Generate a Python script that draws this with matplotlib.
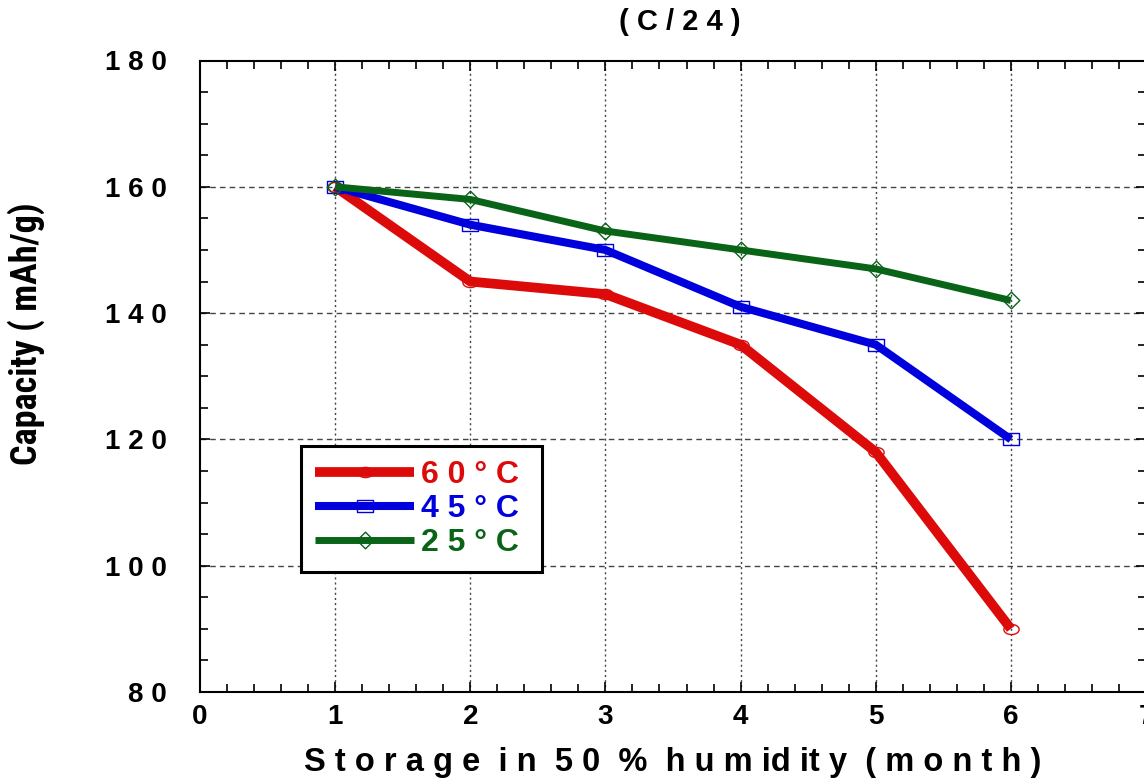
import matplotlib
matplotlib.use("Agg")
import matplotlib.pyplot as plt
from matplotlib.ticker import MultipleLocator
from matplotlib.path import Path
from matplotlib.transforms import Affine2D
from matplotlib import font_manager

months = [1, 2, 3, 4, 5, 6]
cap_60 = [160, 145, 143, 135, 118, 90]
cap_45 = [160, 154, 150, 141, 135, 120]
cap_25 = [160, 158, 153, 150, 147, 142]
labels = ["6 0 ° C ", "4 5 ° C ", "2 5 ° C "]
x_ticks = [0, 1, 2, 3, 4, 5, 6, 7]
y_ticks = [80, 100, 120, 140, 160, 180]
y_tick_labels = ["8 0", "1 0 0", "1 2 0", "1 4 0", "1 6 0", "1 8 0"]

plt.rcParams['font.family'] = ['Liberation Sans', 'DejaVu Sans']

fig = plt.figure(figsize=(11.44, 7.81), dpi=100)
ax = fig.add_axes([200/1144, 1 - 692/781, 946/1144, (692-60.5)/781])

red = '#dd0a0a'
blue = '#0000dd'
green = '#0a6418'

ellipse = Path.unit_circle().transformed(Affine2D().scale(1.5, 1.0))
rect = Path.unit_rectangle().transformed(Affine2D().translate(-0.5, -0.5).scale(1.5, 1.0))
diamond = Path([(0, 1), (1, 0), (0, -1), (-1, 0), (0, 1)],
               [Path.MOVETO, Path.LINETO, Path.LINETO, Path.LINETO, Path.CLOSEPOLY])

ax.plot(months, cap_60, color=red, lw=7.0, marker=ellipse, ms=11,
        mfc='none', mec=red, mew=1.0, label=labels[0], zorder=3,
        solid_capstyle='butt')
ax.plot(months, cap_45, color=blue, lw=5.8, marker=rect, ms=12,
        mfc='none', mec=blue, mew=1.0, label=labels[1], zorder=4,
        solid_capstyle='butt')
ax.plot(months, cap_25, color=green, lw=5.0, marker=diamond, ms=12,
        mfc='none', mec=green, mew=1.0, label=labels[2], zorder=5,
        solid_capstyle='butt')

ax.set_xlim(0, 7)
ax.set_ylim(80, 180)
ax.set_xticks(x_ticks)
ax.set_xticklabels([str(v) for v in x_ticks])
ax.set_yticks(y_ticks)
ax.set_yticklabels(y_tick_labels)
ax.xaxis.set_minor_locator(MultipleLocator(0.2))
ax.yaxis.set_minor_locator(MultipleLocator(5))

ax.tick_params(which='both', direction='in', top=True, right=True, width=1.2, color='black')
ax.tick_params(which='major', length=7)
ax.tick_params(which='minor', length=6)
ax.tick_params(axis='x', which='major', labelsize=20, pad=9)
ax.tick_params(axis='y', which='major', labelsize=20, pad=24)
for lab in ax.get_xticklabels() + ax.get_yticklabels():
    lab.set_fontweight('bold')

for s in ax.spines.values():
    s.set_linewidth(1.5)

for yv in y_ticks[1:-1]:
    ax.axhline(yv, color='#444444', lw=1.0, ls=(0, (4, 3)), zorder=1)
for xv in x_ticks[1:-1]:
    ax.axvline(xv, color='#444444', lw=1.0, ls=(0, (1.5, 2.2)), zorder=1)

ax.set_xlabel("S t o r a g e  i n  5 0  %  h u m id it y  ( m o n t h )",
              fontsize=23.5, fontweight='bold', labelpad=12)

names = {f.name for f in font_manager.fontManager.ttflist}
ylab_family = ['Liberation Sans', 'DejaVu Sans']
for cand in ['Liberation Sans Narrow', 'Roboto Condensed', 'Open Sans Condensed',
             'DejaVu Sans Condensed']:
    if cand in names:
        ylab_family = [cand, 'DejaVu Sans']
        break
ylab = ax.set_ylabel("Capacity ( mAh/g)", fontsize=20, fontweight='bold',
                     family=ylab_family)
ax.yaxis.set_label_coords(-0.164, 0.568)

# fit label length to about the reference's extent (~330 px), capped in size
size = 20.0
for _ in range(3):
    ylab.set_fontsize(size)
    fig.canvas.draw()
    h = ylab.get_window_extent(fig.canvas.get_renderer()).height
    if h <= 0:
        break
    size = min(26.0, size * 330.0 / h)
ylab.set_fontsize(size)

fig.text(680/1144, 1 - 22/781, "( C / 2 4 )", fontsize=21, fontweight='bold',
         ha='center', va='center')

leg = ax.legend(loc='lower left', bbox_to_anchor=(101/948, 120/632),
                borderaxespad=0, handlelength=3.1,
                handletextpad=0.2, numpoints=1, fancybox=False,
                framealpha=1, edgecolor='black', labelspacing=0.12,
                borderpad=0.45, prop={'weight': 'bold', 'size': 23})
leg.get_frame().set_linewidth(2.2)
for txt, c in zip(leg.get_texts(), [red, blue, green]):
    txt.set_color(c)

fig.savefig("out.png", dpi=100)
